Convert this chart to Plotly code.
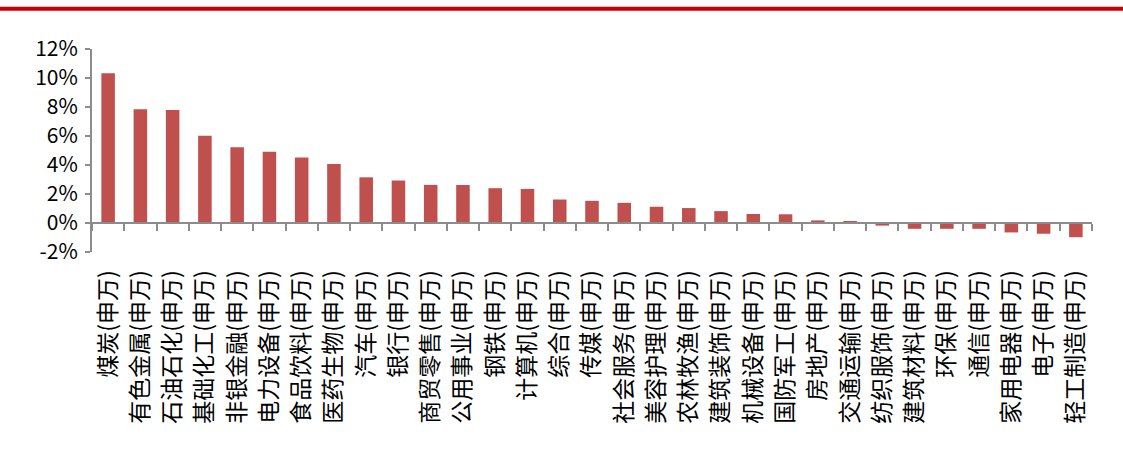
import plotly.graph_objects as go

categories = [
    "煤炭(申万)", "有色金属(申万)", "石油石化(申万)", "基础化工(申万)", "非银金融(申万)",
    "电力设备(申万)", "食品饮料(申万)", "医药生物(申万)", "汽车(申万)", "银行(申万)",
    "商贸零售(申万)", "公用事业(申万)", "钢铁(申万)", "计算机(申万)", "综合(申万)",
    "传媒(申万)", "社会服务(申万)", "美容护理(申万)", "农林牧渔(申万)", "建筑装饰(申万)",
    "机械设备(申万)", "国防军工(申万)", "房地产(申万)", "交通运输(申万)", "纺织服饰(申万)",
    "建筑材料(申万)", "环保(申万)", "通信(申万)", "家用电器(申万)", "电子(申万)",
    "轻工制造(申万)",
]
values = [
    10.32, 7.85, 7.80, 6.02, 5.22,
    4.92, 4.52, 4.07, 3.15, 2.93,
    2.63, 2.62, 2.40, 2.35, 1.62,
    1.53, 1.39, 1.12, 1.03, 0.82,
    0.62, 0.60, 0.18, 0.14, -0.18,
    -0.40, -0.40, -0.40, -0.65, -0.74,
    -0.98,
]
y_tickvals = [-2, 0, 2, 4, 6, 8, 10, 12]
y_ticktext = ["-2%", "0%", "2%", "4%", "6%", "8%", "10%", "12%"]

W, H = 1123, 459
L, R, T, B = 92, 31, 49, 207
plot_w = W - L - R
plot_h = H - T - B

FONT = "Noto Sans CJK SC, Microsoft YaHei, sans-serif"
AXIS = "#8c8c8c"

fig = go.Figure(
    go.Bar(
        x=categories,
        y=values,
        marker=dict(color="#C0504D", line=dict(width=0)),
        width=0.42,
    )
)

fig.update_layout(
    width=W,
    height=H,
    margin=dict(l=L, r=R, t=T, b=B, pad=0),
    paper_bgcolor="white",
    plot_bgcolor="white",
    showlegend=False,
    font=dict(family=FONT, size=23, color="#000000"),
    xaxis=dict(
        type="category",
        anchor="free",
        position=2 / 14,
        showline=True,
        linecolor=AXIS,
        linewidth=2,
        ticks="outside",
        tickson="boundaries",
        ticklen=7,
        tickwidth=1.5,
        tickcolor=AXIS,
        tickangle=-90,
        ticklabelstandoff=37,
        showgrid=False,
        zeroline=False,
        tickfont=dict(family=FONT, size=23, color="#000000"),
    ),
    yaxis=dict(
        range=[-2, 12],
        tickvals=y_tickvals,
        ticktext=y_ticktext,
        showline=True,
        linecolor=AXIS,
        linewidth=2,
        ticks="outside",
        ticklen=5,
        tickwidth=1.5,
        tickcolor=AXIS,
        showgrid=False,
        zeroline=False,
        ticklabelstandoff=3,
        tickfont=dict(family=FONT, size=21, color="#000000"),
    ),
)

# top red rule across the whole page
y_line = 1 + (T - 8.8) / plot_h
fig.add_shape(
    type="line", xref="paper", yref="paper",
    x0=-L / plot_w, x1=(W - L) / plot_w, y0=y_line, y1=y_line,
    line=dict(color="#CC0000", width=4),
)

fig.write_html("out.html")
